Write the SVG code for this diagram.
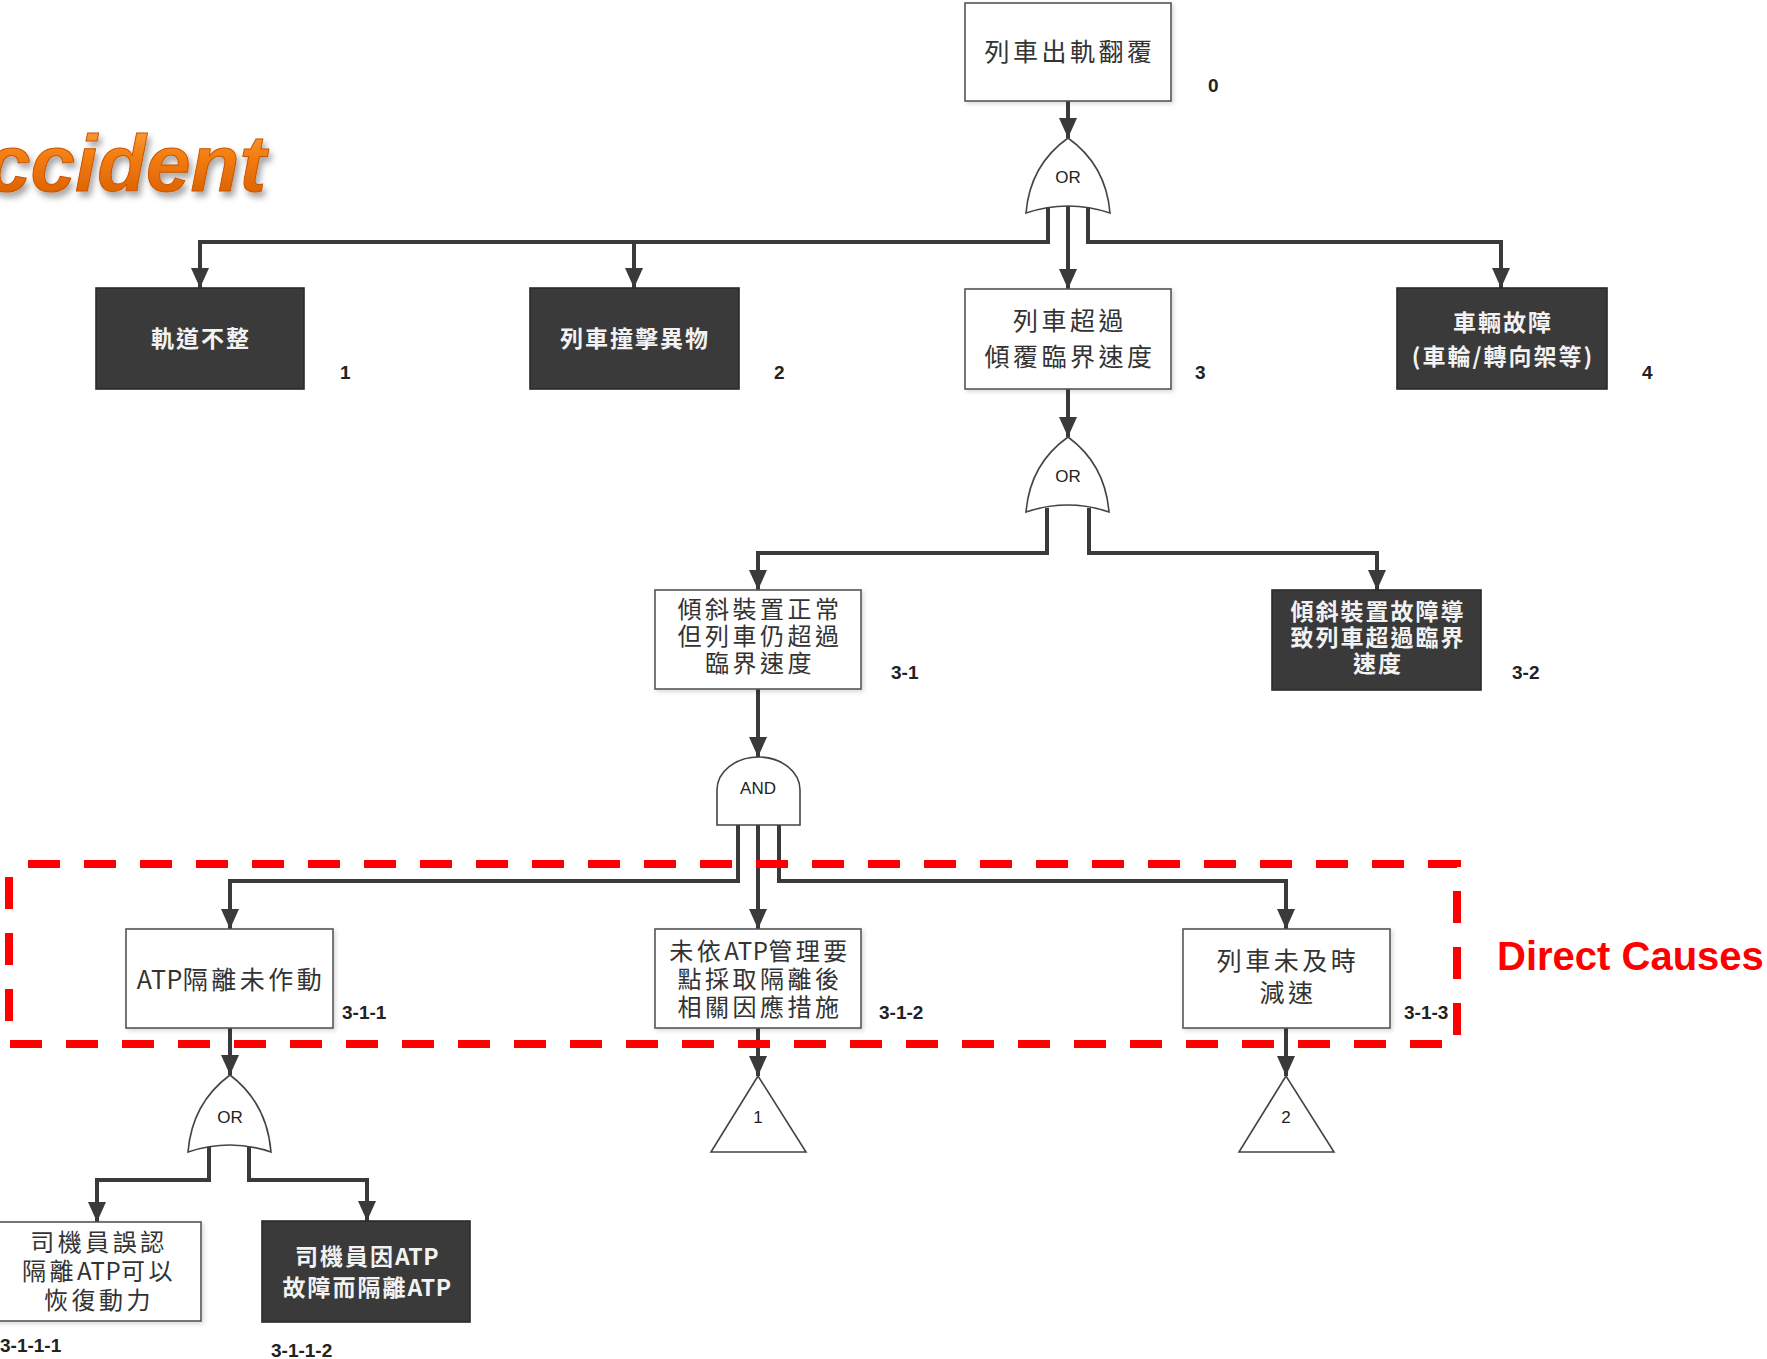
<svg xmlns="http://www.w3.org/2000/svg" width="1767" height="1359" viewBox="0 0 1767 1359">
  <defs>
    <style>
      .box { fill: #ffffff; stroke: #555555; stroke-width: 1.6; }
      .dark { fill: #3a3a3a; stroke: #2a2a2a; stroke-width: 1.6; }
      .gate { fill: #ffffff; stroke: #444444; stroke-width: 1.6; }
      .wire { fill: none; stroke: #3a3a3a; stroke-width: 4; stroke-linejoin: miter; }
      .arr { marker-end: url(#head); }
      .cjk { font-family: 'Noto Sans CJK TC', 'Noto Sans CJK SC', sans-serif; font-size: 25px; letter-spacing: 3.5px; fill: #333333; text-anchor: middle; }
      .cjk3 { font-size: 24px; }
      .cjkw { font-family: 'Noto Sans CJK TC', 'Noto Sans CJK SC', sans-serif; font-size: 23px; font-weight: 700; letter-spacing: 2px; fill: #f2f2f2; text-anchor: middle; }
      .lat { letter-spacing: 0.5px; }
      .id { font-family: 'Liberation Sans', Arial, sans-serif; font-size: 19px; font-weight: 700; fill: #222222; }
      .gt { font-family: 'Liberation Sans', Arial, sans-serif; font-size: 17px; fill: #222222; text-anchor: middle; }
      .frame { fill: none; stroke: #ff0000; stroke-width: 8; stroke-dasharray: 32 24; stroke-dashoffset: 37; }
    </style>
    <marker id="head" viewBox="0 0 20 18" refX="20" refY="9" markerWidth="20" markerHeight="18" markerUnits="userSpaceOnUse" orient="auto">
      <path d="M0,0 L20,9 L0,18 Z" fill="#3a3a3a"/>
    </marker>
    <linearGradient id="orange" x1="0" y1="0" x2="0" y2="1">
      <stop offset="0" stop-color="#ffa64a"/>
      <stop offset="0.45" stop-color="#f27a0c"/>
      <stop offset="1" stop-color="#d45a00"/>
    </linearGradient>
    <filter id="soft" x="-10%" y="-10%" width="130%" height="140%">
      <feDropShadow dx="3" dy="5" stdDeviation="3" flood-color="#000000" flood-opacity="0.35"/>
    </filter>
    <filter id="boxshade" x="-5%" y="-5%" width="115%" height="120%">
      <feDropShadow dx="2" dy="2" stdDeviation="2" flood-color="#000000" flood-opacity="0.15"/>
    </filter>
  </defs>

  <rect width="1767" height="1359" fill="#ffffff"/>

  <!-- title fragment, top left -->
  <text x="-14" y="191" font-family="'Liberation Sans', Arial, sans-serif" font-size="80" font-weight="700" font-style="italic" fill="url(#orange)" stroke="#c85400" stroke-width="1" filter="url(#soft)">ccident</text>

  <!-- connectors -->
  <g id="connectors">
    <path class="wire arr" d="M1068,101 V138"/>
    <path class="wire arr" d="M1048,208 V242 H200 V288"/>
    <path class="wire arr" d="M634,242 V288"/>
    <path class="wire arr" d="M1068,206 V289"/>
    <path class="wire arr" d="M1088,208 V242 H1501 V288"/>

    <path class="wire arr" d="M1068,389 V437"/>
    <path class="wire arr" d="M1047,508 V553 H758 V590"/>
    <path class="wire arr" d="M1089,508 V553 H1377 V590"/>

    <path class="wire arr" d="M758,689 V757"/>
    <path class="wire arr" d="M738,825 V881 H230 V929"/>
    <path class="wire arr" d="M758,825 V929"/>
    <path class="wire arr" d="M779,825 V881 H1286 V929"/>

    <path class="wire arr" d="M230,1028 V1075"/>
    <path class="wire arr" d="M758,1028 V1076"/>
    <path class="wire arr" d="M1286,1028 V1076"/>

    <path class="wire arr" d="M209,1147 V1180 H97 V1222"/>
    <path class="wire arr" d="M249,1147 V1180 H367 V1221"/>
  </g>

  <!-- top event -->
  <g id="node-0">
    <rect class="box" x="965" y="3" width="206" height="98" filter="url(#boxshade)"/>
    <text class="cjk" x="1070" y="61">列車出軌翻覆</text>
    <text class="id" x="1208" y="92">0</text>
  </g>

  <g id="gate-or-0">
    <path class="gate" d="M1068,138 Q1030,165 1026,213 Q1068,199 1110,213 Q1106,165 1068,138 Z"/>
    <text class="gt" x="1068" y="183">OR</text>
  </g>

  <g id="node-1">
    <rect class="dark" x="96" y="288" width="208" height="101"/>
    <text class="cjkw" x="201" y="347">軌道不整</text>
    <text class="id" x="340" y="379">1</text>
  </g>

  <g id="node-2">
    <rect class="dark" x="530" y="288" width="209" height="101"/>
    <text class="cjkw" x="635" y="347">列車撞擊異物</text>
    <text class="id" x="774" y="379">2</text>
  </g>

  <g id="node-3">
    <rect class="box" x="965" y="289" width="206" height="100" filter="url(#boxshade)"/>
    <text class="cjk" x="1070" y="330">列車超過</text>
    <text class="cjk" x="1070" y="366">傾覆臨界速度</text>
    <text class="id" x="1195" y="379">3</text>
  </g>

  <g id="node-4">
    <rect class="dark" x="1397" y="288" width="210" height="101"/>
    <text class="cjkw" x="1503" y="331">車輛故障</text>
    <text class="cjkw" x="1503" y="365">(車輪/轉向架等)</text>
    <text class="id" x="1642" y="379">4</text>
  </g>

  <g id="gate-or-3">
    <path class="gate" d="M1068,437 Q1030,464 1026,512 Q1068,498 1109,512 Q1105,464 1068,437 Z"/>
    <text class="gt" x="1068" y="482">OR</text>
  </g>

  <g id="node-3-1">
    <rect class="box" x="655" y="590" width="206" height="99" filter="url(#boxshade)"/>
    <text class="cjk cjk3" x="760" y="618">傾斜裝置正常</text>
    <text class="cjk cjk3" x="760" y="645">但列車仍超過</text>
    <text class="cjk cjk3" x="760" y="672">臨界速度</text>
    <text class="id" x="891" y="679">3-1</text>
  </g>

  <g id="node-3-2">
    <rect class="dark" x="1272" y="590" width="209" height="100"/>
    <text class="cjkw" x="1378" y="620">傾斜裝置故障導</text>
    <text class="cjkw" x="1378" y="646">致列車超過臨界</text>
    <text class="cjkw" x="1378" y="672">速度</text>
    <text class="id" x="1512" y="679">3-2</text>
  </g>

  <g id="gate-and-3-1">
    <path class="gate" d="M717,825 V790 A41.5,33 0 0 1 800,790 V825 Z"/>
    <text class="gt" x="758" y="794">AND</text>
  </g>

  <!-- direct causes frame -->
  <g id="direct-causes">
    <rect class="frame" x="9" y="864" width="1448" height="180"/>
    <text x="1497" y="970" font-family="'Liberation Sans', Arial, sans-serif" font-size="40" font-weight="700" fill="#ff0000">Direct Causes</text>
  </g>

  <g id="node-3-1-1">
    <rect class="box" x="126" y="929" width="207" height="99" filter="url(#boxshade)"/>
    <text class="cjk" x="231" y="989"><tspan class="lat">ATP</tspan>隔離未作動</text>
    <text class="id" x="342" y="1019">3-1-1</text>
  </g>

  <g id="node-3-1-2">
    <rect class="box" x="655" y="929" width="206" height="99" filter="url(#boxshade)"/>
    <text class="cjk cjk3" x="760" y="960">未依<tspan class="lat">ATP</tspan>管理要</text>
    <text class="cjk cjk3" x="760" y="988">點採取隔離後</text>
    <text class="cjk cjk3" x="760" y="1016">相關因應措施</text>
    <text class="id" x="879" y="1019">3-1-2</text>
  </g>

  <g id="node-3-1-3">
    <rect class="box" x="1183" y="929" width="207" height="99" filter="url(#boxshade)"/>
    <text class="cjk" x="1288" y="970">列車未及時</text>
    <text class="cjk" x="1288" y="1002">減速</text>
    <text class="id" x="1404" y="1019">3-1-3</text>
  </g>

  <g id="transfer-1">
    <path class="gate" d="M758,1076 L711,1152 L806,1152 Z"/>
    <text class="gt" x="758" y="1123">1</text>
  </g>

  <g id="transfer-2">
    <path class="gate" d="M1286,1076 L1239,1152 L1334,1152 Z"/>
    <text class="gt" x="1286" y="1123">2</text>
  </g>

  <g id="gate-or-3-1-1">
    <path class="gate" d="M230,1075 Q192,1103 188,1152 Q230,1138 271,1152 Q267,1103 230,1075 Z"/>
    <text class="gt" x="230" y="1123">OR</text>
  </g>

  <g id="node-3-1-1-1">
    <rect class="box" x="-6" y="1222" width="207" height="99" filter="url(#boxshade)"/>
    <text class="cjk cjk3" x="99" y="1251">司機員誤認</text>
    <text class="cjk cjk3" x="99" y="1280">隔離<tspan class="lat">ATP</tspan>可以</text>
    <text class="cjk cjk3" x="99" y="1309">恢復動力</text>
    <text class="id" x="0" y="1352">3-1-1-1</text>
  </g>

  <g id="node-3-1-1-2">
    <rect class="dark" x="262" y="1221" width="208" height="101"/>
    <text class="cjkw" x="367" y="1265">司機員因<tspan class="lat">ATP</tspan></text>
    <text class="cjkw" x="367" y="1296">故障而隔離<tspan class="lat">ATP</tspan></text>
    <text class="id" x="271" y="1357">3-1-1-2</text>
  </g>
</svg>
